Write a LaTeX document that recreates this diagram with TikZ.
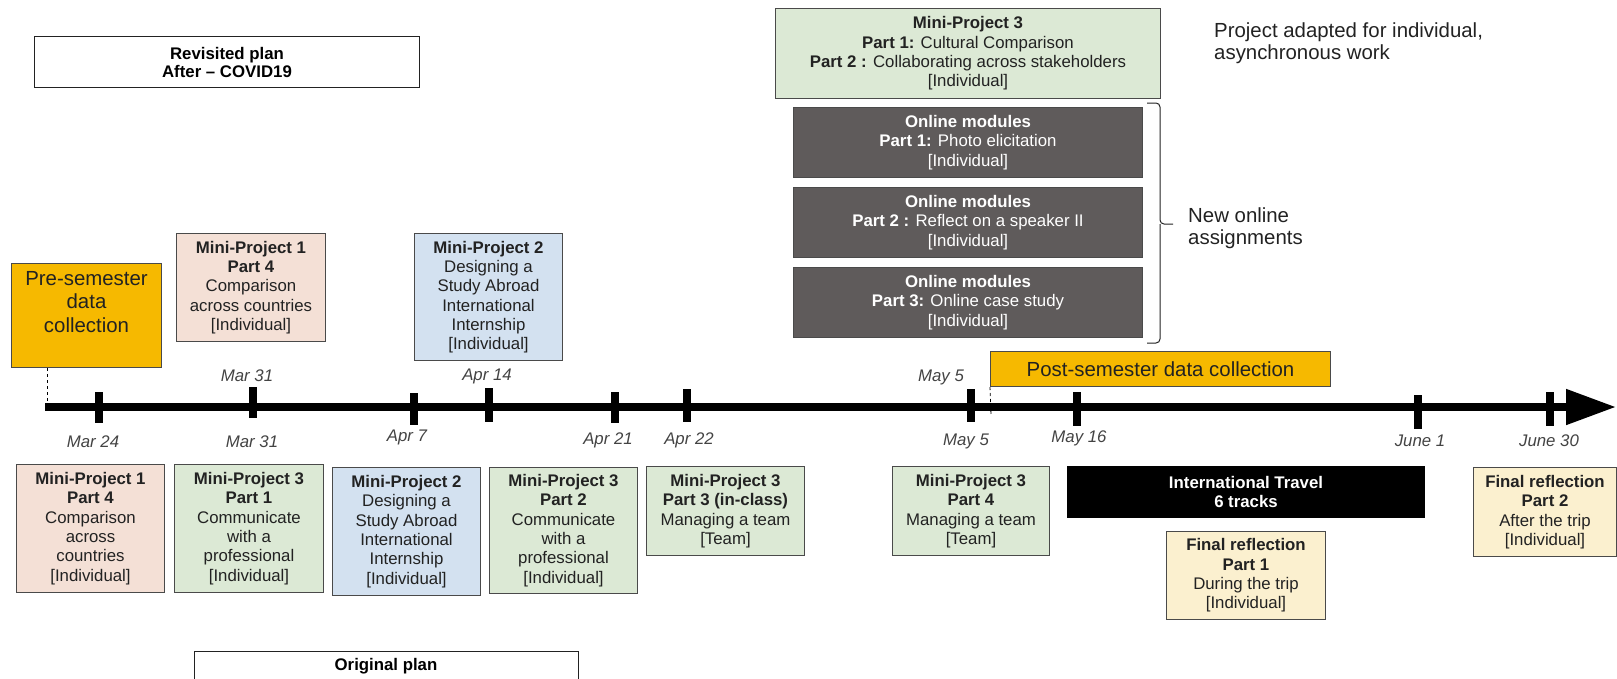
\documentclass[tikz,border=0pt]{standalone}
\usepackage{fontspec}
\setmainfont{Liberation Sans}
\usepackage{xcolor}
\usetikzlibrary{arrows.meta, positioning}

\definecolor{gold}{HTML}{F6B900}
\definecolor{peach}{HTML}{F4E0D6}
\definecolor{sage}{HTML}{DCE9D5}
\definecolor{skyblue}{HTML}{D3E1F0}
\definecolor{cream}{HTML}{FBF0CF}
\definecolor{modgray}{HTML}{5F5B5B}
\definecolor{boxline}{HTML}{4A4A4A}
\definecolor{textdark}{HTML}{222222}

\newcommand{\indiv}{[Individual]}
\newcommand{\teamtag}{[Team]}

\tikzset{
    planbox/.style={
        rectangle,
        draw=textdark,
        line width=1pt,
        fill=white,
        inner sep=0pt,
        align=center,
        anchor=north west,
        font=\bfseries\fontsize{16.8}{18}\selectfont
    },
    projbox/.style={
        rectangle,
        draw=boxline,
        line width=1pt,
        inner sep=0pt,
        align=center,
        anchor=north west,
        text=textdark,
        font=\fontsize{16.8}{19.3}\selectfont
    },
    mpone/.style={
        projbox,
        fill=peach
    },
    mptwo/.style={
        projbox,
        fill=skyblue
    },
    mpthree/.style={
        projbox,
        fill=sage
    },
    finalbox/.style={
        projbox,
        fill=cream
    },
    online/.style={
        projbox,
        fill=modgray,
        text=white
    },
    travelbox/.style={
        projbox,
        draw=black,
        fill=black,
        text=white,
        font=\bfseries\fontsize{16.8}{19.3}\selectfont
    },
    datacoll/.style={
        rectangle,
        draw=boxline,
        line width=1pt,
        fill=gold,
        inner sep=0pt,
        anchor=north west,
        text=textdark,
        font=\fontsize{20.4}{23.5}\selectfont
    },
    datatext/.style={
        inner sep=0pt,
        align=center,
        text=textdark,
        font=\fontsize{20.4}{23.5}\selectfont
    },
    datelbl/.style={
        inner sep=0pt,
        text=textdark!85,
        font=\itshape\fontsize{16.8}{19}\selectfont
    },
    note/.style={
        inner sep=0pt,
        align=left,
        anchor=west,
        text=textdark,
        font=\fontsize{20.4}{22}\selectfont
    },
    timeline/.style={
        draw=black,
        line width=8pt,
        -{Triangle[length=50pt, width=34pt]}
    },
    tickmark/.style={
        draw=black,
        line width=8pt
    },
    guide/.style={
        draw=black,
        dashed,
        line width=0.8pt
    },
    bracket/.style={
        draw=textdark,
        line width=1pt,
        rounded corners=4pt
    }
}

\begin{document}
\begin{tikzpicture}[x=1pt, y=-1pt]
\useasboundingbox (0,0) rectangle (1617,678);

% Plan headers
\node[planbox, minimum width=385pt, minimum height=51pt] (revisited) at (34,36) {Revisited plan\\After – COVID19};
\node[planbox, minimum width=384pt, minimum height=30pt, anchor=center] (original) at (386,666) {Original plan};

% Data collection
\node[datacoll, minimum width=150pt, minimum height=104pt] (presem) at (11,263) {};
\node[datatext, below=8pt of presem.north] (presemtxt) {Pre-semester\\data\\collection};
\node[datacoll, minimum width=340pt, minimum height=35pt] (postsem) at (990,351) {Post-semester data collection};

% Timeline
\coordinate (tlstart) at (45,407);
\coordinate (tlend) at (1616,407);
\draw[timeline] (tlstart) -- (tlend);
\foreach \x/\ya/\yb in {99/392/423, 253/387/418, 414/393/425, 489/388/422, 615/392/423,
                        687/389/422, 971/389/422, 1077/392/426, 1418/395/429, 1550/392/426}
    \draw[tickmark] (\x,\ya) -- (\x,\yb);

\coordinate (presemfoot) at (47,407);
\draw[guide] (presemfoot |- presem.south) -- (presemfoot);
\coordinate (postsemfoot) at (991,415);
\draw[guide] (postsem.south west) -- (postsemfoot);

% Dates
\foreach \x/\y/\d [count=\i] in {247/376/Mar 31, 487/376/Apr 14, 941/377/May 5}
    \node[datelbl] (dateup\i) at (\x,\y) {\d};
\foreach \x/\y/\d [count=\i] in {93/442/Mar 24, 252/442/Mar 31, 407/437/Apr 7, 608/440/Apr 21,
                                 689/440/Apr 22, 966/441/May 5, 1079/438/May 16, 1420/441/June 1,
                                 1549/441/June 30}
    \node[datelbl] (datedown\i) at (\x,\y) {\d};

% Revisited plan
\node[mpone, minimum width=149pt, minimum height=108pt] (mp1up) at (176,233)
    {\textbf{Mini-Project 1}\\\textbf{Part 4}\\Comparison\\across countries\\\indiv};
\node[mptwo, minimum width=148pt, minimum height=127pt] (mp2up) at (414,233)
    {\textbf{Mini-Project 2}\\Designing a\\Study Abroad\\International\\Internship\\\indiv};
\node[mpthree, minimum width=385pt, minimum height=90pt] (mp3up) at (775,8)
    {\textbf{Mini-Project 3}\\\textbf{Part 1:} Cultural Comparison\\\textbf{Part 2 :} Collaborating across stakeholders\\\indiv};

% Online modules
\node[online, minimum width=349pt, minimum height=70pt, below=8pt of mp3up] (mod1)
    {\textbf{Online modules}\\\textbf{Part 1:} Photo elicitation\\\indiv};
\node[online, minimum width=349pt, minimum height=70pt, below=9pt of mod1] (mod2)
    {\textbf{Online modules}\\\textbf{Part 2 :} Reflect on a speaker II\\\indiv};
\node[online, minimum width=349pt, minimum height=70pt, below=9pt of mod2] (mod3)
    {\textbf{Online modules}\\\textbf{Part 3:} Online case study\\\indiv};

\coordinate (bracetop) at (1147,103);
\coordinate (bracebot) at (1147,343);
\coordinate (bracemid) at (1160,224);
\coordinate (bracetip) at (1173,224);
\draw[bracket] (bracetop) -| (bracemid) -- (bracetip);
\draw[bracket] (bracebot) -| (bracemid);
\node[note] (newonline) at (1188,228) {New online\\assignments};
\node[note] (adapted) at (1214,43) {Project adapted for individual,\\asynchronous work};

% Original plan
\node[mpone, minimum width=148pt, minimum height=128pt] (mp1low) at (16,464)
    {\textbf{Mini-Project 1}\\\textbf{Part 4}\\Comparison\\across\\countries\\\indiv};
\node[mpthree, minimum width=149pt, minimum height=128pt] (mp3p1) at (174,464)
    {\textbf{Mini-Project 3}\\\textbf{Part 1}\\Communicate\\with a\\professional\\\indiv};
\node[mptwo, minimum width=148pt, minimum height=128pt] (mp2low) at (332,467)
    {\textbf{Mini-Project 2}\\Designing a\\Study Abroad\\International\\Internship\\\indiv};
\node[mpthree, minimum width=148pt, minimum height=126pt] (mp3p2) at (489,467)
    {\textbf{Mini-Project 3}\\\textbf{Part 2}\\Communicate\\with a\\professional\\\indiv};
\node[mpthree, minimum width=158pt, minimum height=89pt] (mp3p3) at (646,466)
    {\textbf{Mini-Project 3}\\\textbf{Part 3 (in-class)}\\Managing a team\\\teamtag};
\node[mpthree, minimum width=157pt, minimum height=89pt] (mp3p4) at (892,466)
    {\textbf{Mini-Project 3}\\\textbf{Part 4}\\Managing a team\\\teamtag};

% Travel and reflections
\node[travelbox, minimum width=357pt, minimum height=51pt] (travel) at (1067,466)
    {International Travel\\6 tracks};
\node[finalbox, minimum width=159pt, minimum height=88pt, below=13pt of travel] (final1)
    {\textbf{Final reflection}\\\textbf{Part 1}\\During the trip\\\indiv};
\node[finalbox, minimum width=143pt, minimum height=89pt] (final2) at (1473,467)
    {\textbf{Final reflection}\\\textbf{Part 2}\\After the trip\\\indiv};

\end{tikzpicture}
\end{document}
